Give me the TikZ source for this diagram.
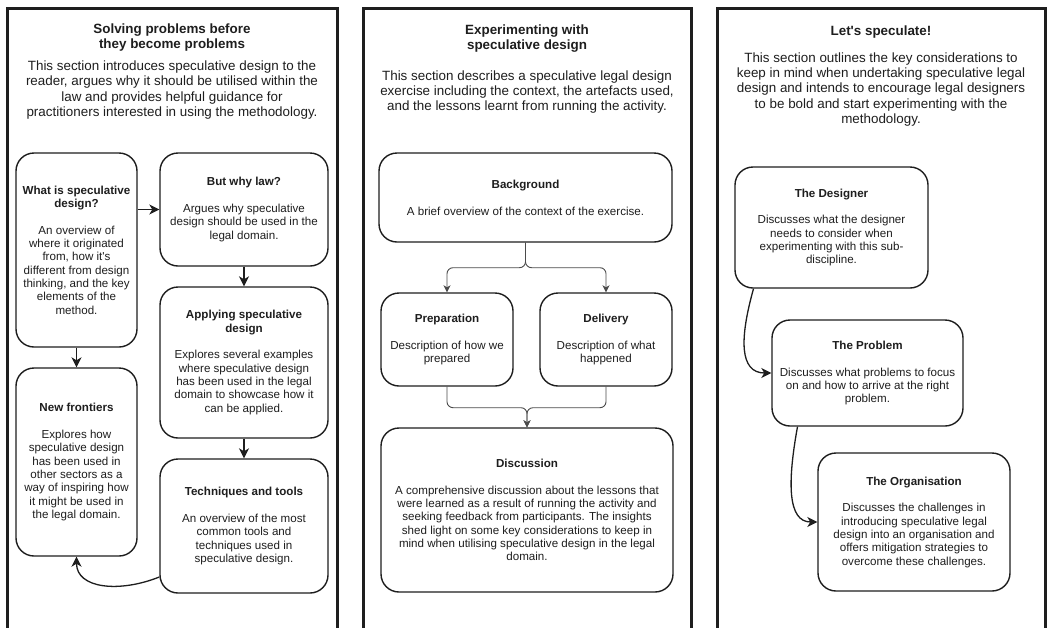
\documentclass[tikz,border=0pt]{standalone}
\usepackage{fontspec}
\setmainfont{Liberation Sans}
\usetikzlibrary{arrows.meta,calc}
\definecolor{ink}{HTML}{1E1E1E}
\newcommand{\ap}{\textquotesingle}
\begin{document}
\begin{tikzpicture}[x=1pt,y=-1pt,
  panel/.style={line width=3pt, draw=ink},
  box/.style={draw=ink, line width=1.4pt, rounded corners=18pt, align=center, inner sep=0pt,
    text=ink, font=\fontsize{11.6}{13.3}\selectfont},
  ptitle/.style={align=center, text=ink, font=\fontsize{13.4}{15}\selectfont\bfseries},
  pbody/.style={align=center, text=ink, font=\fontsize{13.4}{15.3}\selectfont},
  arr/.style={draw=ink, line width=1.3pt, -{Stealth[length=10pt,width=10pt,inset=3pt]}},
  thinarr/.style={draw=ink!80, line width=0.9pt, rounded corners=6pt, -{Stealth[length=7pt,width=7pt,inset=2pt]}},
]
\useasboundingbox (0,0) rectangle (1047,627);
\fill[white] (0,0) rectangle (1047,627);

% panels
\draw[panel] (7,630) -- (7,8) -- (337,8) -- (337,630);
\draw[panel] (363,630) -- (363,8) -- (691,8) -- (691,630);
\draw[panel] (717,630) -- (717,8) -- (1045,8) -- (1045,630);

% headers
\node[ptitle] (t1) at (172,37.5) {Solving problems before\\they become problems};
\node[pbody] (b1) at (172,90) {This section introduces speculative design to the\\reader, argues why it should be utilised within the\\law and provides helpful guidance for\\practitioners interested in using the methodology.};
\node[ptitle] (t2) at (527,38.5) {Experimenting with\\speculative design};
\node[pbody] (b2) at (527,92) {This section describes a speculative legal design\\exercise including the context, the artefacts used,\\and the lessons learnt from running the activity.};
\node[ptitle] (t3) at (881,32) {Let\ap s speculate!};
\node[pbody] (b3) at (881,89.5) {This section outlines the key considerations to\\keep in mind when undertaking speculative legal\\design and intends to encourage legal designers\\to be bold and start experimenting with the\\methodology.};

% left panel boxes
\node[box, minimum width=121pt, minimum height=194pt] (what) at (76.5,250)
  {\textbf{What is speculative}\\\textbf{design?}\\[13.5pt]An overview of\\where it originated\\from, how it\ap s\\different from design\\thinking, and the key\\elements of the\\method.};
\node[box, minimum width=168pt, minimum height=113pt] (but) at (244,209.5)
  {\textbf{But why law?}\\[13.5pt]Argues why speculative\\design should be used in the\\legal domain.};
\node[box, minimum width=168pt, minimum height=151pt] (apply) at (244,362.5)
  {\textbf{Applying speculative}\\\textbf{design}\\[13.5pt]Explores several examples\\where speculative design\\has been used in the legal\\domain to showcase how it\\can be applied.};
\node[box, minimum width=168pt, minimum height=134pt] (tech) at (244,526)
  {\textbf{Techniques and tools}\\[13.5pt]An overview of the most\\common tools and\\techniques used in\\speculative design.};
\node[box, minimum width=121pt, minimum height=188pt] (newf) at (76.5,462)
  {\textbf{New frontiers}\\[13.5pt]Explores how\\speculative design\\has been used in\\other sectors as a\\way of inspiring how\\it might be used in\\the legal domain.};

\draw[arr] (what.east |- but.west) -- (but.west);
\draw[arr] (but.south) -- (apply.north);
\draw[arr] (apply.south) -- (tech.north);
\draw[arr] (what.south) -- (newf.north);
\draw[arr] ([yshift=-51pt]tech.west) .. controls +(-40,16) and +(0,32) .. (newf.south);

% middle panel boxes
\node[box, minimum width=293pt, minimum height=89pt] (bg) at (525.5,197.5)
  {\textbf{Background}\\[13.5pt]A brief overview of the context of the exercise.};
\node[box, minimum width=132pt, minimum height=93pt] (prep) at (447,339.5)
  {\textbf{Preparation}\\[13.5pt]Description of how we\\prepared};
\node[box, minimum width=132pt, minimum height=93pt] (deliv) at (606,339.5)
  {\textbf{Delivery}\\[13.5pt]Description of what\\happened};
\node[box, minimum width=292pt, minimum height=164pt] (disc) at (527,510)
  {\textbf{Discussion}\\[13.5pt]A comprehensive discussion about the lessons that\\were learned as a result of running the activity and\\seeking feedback from participants. The insights\\shed light on some key considerations to keep in\\mind when utilising speculative design in the legal\\domain.};

\draw[thinarr] (bg.south) -- ++(0,25) -| (prep.north);
\draw[thinarr] (bg.south) -- ++(0,25) -| (deliv.north);
\draw[thinarr] (prep.south) -- ++(0,21) -| (disc.north);
\draw[thinarr] (deliv.south) -- ++(0,21) -| (disc.north);

% right panel boxes
\node[box, minimum width=193pt, minimum height=121pt] (des) at (831.5,227.5)
  {\textbf{The Designer}\\[13.5pt]Discusses what the designer\\needs to consider when\\experimenting with this sub-\\discipline.};
\node[box, minimum width=191pt, minimum height=106pt] (prob) at (867.5,373)
  {\textbf{The Problem}\\[13.5pt]Discusses what problems to focus\\on and how to arrive at the right\\problem.};
\node[box, minimum width=192pt, minimum height=138pt] (org) at (914,522)
  {\textbf{The Organisation}\\[13.5pt]Discusses the challenges in\\introducing speculative legal\\design into an organisation and\\offers mitigation strategies to\\overcome these challenges.};

\draw[arr] ([xshift=-78pt]des.south) .. controls +(-14,50) and +(-32,0) .. (prob.west);
\draw[arr] ([xshift=-70pt]prob.south) .. controls +(-10,55) and +(-30,0) .. (org.west);
\end{tikzpicture}
\end{document}
